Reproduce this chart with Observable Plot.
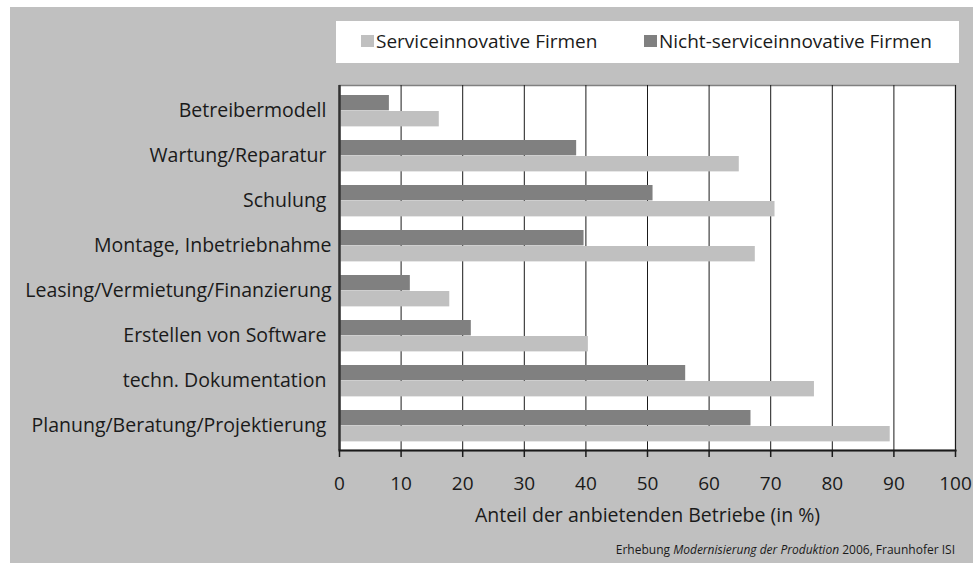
<!DOCTYPE html>
<html>
<head>
<meta charset="utf-8">
<script src="https://cdn.jsdelivr.net/npm/d3@7"></script>
<script src="https://cdn.jsdelivr.net/npm/@observablehq/plot@0.6"></script>
<style>
  html, body { margin: 0; padding: 0; background: #fff; }
  body { width: 973px; height: 563px; position: relative; overflow: hidden; font-family: "Open Sans", "Noto Sans", sans-serif; color: #1a1a1a; }
  #panel { position: absolute; left: 10px; top: 7px; width: 963px; height: 556px; background: #c0c0c0; }
  #legend { position: absolute; left: 336px; top: 21px; width: 623px; height: 42px; background: #fff; font-size: 19px; }
  .item { display: flex; align-items: center; position: absolute; top: 7px; }
  .sw { width: 13px; height: 12px; margin-right: 2px; }
  #chart { position: absolute; left: 10px; top: 70px; }
  #chart svg { overflow: visible; }
  #caption { position: absolute; right: 18px; top: 541px; font-size: 12px; white-space: nowrap; }
</style>
</head>
<body>
<div id="panel"></div>
<div id="legend"></div>
<div id="chart"></div>
<div id="caption">Erhebung <i>Modernisierung der Produktion</i> 2006, Fraunhofer ISI</div>
<script>
const categories = [
  "Betreibermodell",
  "Wartung/Reparatur",
  "Schulung",
  "Montage, Inbetriebnahme",
  "Leasing/Vermietung/Finanzierung",
  "Erstellen von Software",
  "techn. Dokumentation",
  "Planung/Beratung/Projektierung"
];
const seriesNames = ["Serviceinnovative Firmen", "Nicht-serviceinnovative Firmen"];
const serviceValues = [16.2, 64.9, 70.7, 67.5, 17.9, 40.4, 77.1, 89.4];
const nonServiceValues = [8.1, 38.5, 50.9, 39.7, 11.5, 21.4, 56.2, 66.8];
const xTicks = [0, 10, 20, 30, 40, 50, 60, 70, 80, 90, 100];
const xLabel = "Anteil der anbietenden Betriebe (in %)";
// labels that carry a trailing space in the original
const paddedLabels = ["Betreibermodell", "Wartung/Reparatur", "Schulung", "Erstellen von Software", "techn. Dokumentation", "Planung/Beratung/Projektierung"];

const colors = {"Serviceinnovative Firmen": "#c0c0c0", "Nicht-serviceinnovative Firmen": "#808080"};

const dark = categories.map((c, i) => ({category: c, value: nonServiceValues[i]}));
const light = categories.map((c, i) => ({category: c, value: serviceValues[i]}));

const width = 963, height = 460;
const marginTop = 15, marginBottom = 80, marginLeft = 329, marginRight = 18;
const bandH = (height - marginTop - marginBottom) / categories.length;
const barH = 16, gapTop = 7;

const chart = Plot.plot({
  width, height, marginTop, marginBottom, marginLeft, marginRight,
  style: {background: "transparent", fontFamily: "'Open Sans', 'Noto Sans', sans-serif", color: "#1a1a1a"},
  x: {domain: [0, 100]},
  y: {domain: categories, padding: 0},
  marks: [
    Plot.frame({fill: "#fff", stroke: "#808080", strokeWidth: 1.5}),
    Plot.ruleX(xTicks.slice(1), {stroke: "#1a1a1a", strokeWidth: 1}),
    Plot.barX(dark, {y: "category", x: "value", fill: colors[seriesNames[1]],
      insetTop: gapTop, insetBottom: bandH - gapTop - barH}),
    Plot.barX(light, {y: "category", x: "value", fill: colors[seriesNames[0]],
      insetTop: gapTop + barH, insetBottom: bandH - gapTop - 2 * barH}),
    Plot.ruleX([0], {stroke: "#333", strokeWidth: 2.5}),
    Plot.frame({anchor: "bottom", stroke: "#1a1a1a", strokeWidth: 2}),
    Plot.axisX({ticks: xTicks, tickSize: 7, tickPadding: 19, fontSize: 19, stroke: "#1a1a1a", strokeWidth: 1.5,
      label: xLabel, labelArrow: "none", labelAnchor: "center", labelOffset: 71, tickFormat: d => String(d)}),
    Plot.axisY({tickSize: 0, tickPadding: 8, fontSize: 19.5, label: null,
      tickFormat: d => paddedLabels.includes(d) ? d + "\u00a0" : d})
  ]
});
// axis title size
chart.querySelectorAll("[aria-label='x-axis label'] text, [aria-label='x-axis label']").forEach(el => el.setAttribute("font-size", "19.5"));
document.getElementById("chart").appendChild(chart);

// legend
const legend = document.getElementById("legend");
const positions = [25, 308];
seriesNames.forEach((name, i) => {
  const item = document.createElement("div");
  item.className = "item";
  item.style.left = positions[i] + "px";
  const sw = document.createElement("span");
  sw.className = "sw";
  sw.style.background = colors[name];
  const t = document.createElement("span");
  t.textContent = name;
  item.appendChild(sw); item.appendChild(t);
  legend.appendChild(item);
});
</script>
</body>
</html>
